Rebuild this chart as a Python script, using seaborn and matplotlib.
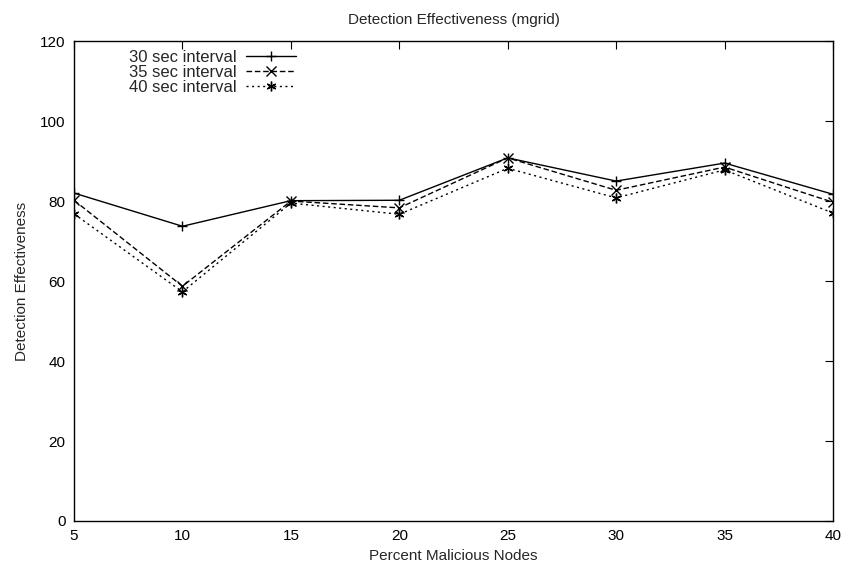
import matplotlib
matplotlib.use("Agg")
import matplotlib.pyplot as plt
import seaborn as sns
import pandas as pd

percent = [5, 10, 15, 20, 25, 30, 35, 40]
s30 = [82.0, 73.7, 80.1, 80.2, 90.8, 85.0, 89.5, 81.7]
s35 = [80.2, 58.7, 80.0, 78.3, 90.8, 82.7, 88.5, 79.7]
s40 = [76.8, 57.3, 79.5, 76.7, 88.2, 80.8, 87.8, 77.0]
labels = ["30 sec interval", "35 sec interval", "40 sec interval"]

sns.set_theme(style="white")
plt.rcParams['font.family'] = ['Liberation Sans', 'DejaVu Sans']

df = pd.DataFrame({
    "x": percent * 3,
    "y": s30 + s35 + s40,
    "series": [labels[0]] * 8 + [labels[1]] * 8 + [labels[2]] * 8,
})

fig = plt.figure(figsize=(8.48, 5.71), dpi=100)
ax = fig.add_axes([0.0873, 0.0876, 0.8950, 0.8404])

styles = {labels[0]: ("-", "+"), labels[1]: ((0, (4, 2)), "x"), labels[2]: ((0, (1.5, 2.5)), (6, 2, 0))}
for lab in labels:
    sub = df[df["series"] == lab]
    ls, mk = styles[lab]
    sns.lineplot(data=sub, x="x", y="y", ax=ax, color="black", linewidth=1.0,
                 linestyle=ls, marker=mk, markersize=7, markeredgewidth=1.0,
                 markerfacecolor="none", markeredgecolor="black", label=lab)

ax.set_xlim(5, 40)
ax.set_ylim(0, 120)
ax.set_xticks(percent)
ax.set_yticks([0, 20, 40, 60, 80, 100, 120])
ax.tick_params(direction="in", top=True, right=True, length=6, width=0.8,
               labelsize=11, colors="black", pad=6)
for sp in ax.spines.values():
    sp.set_color("black")
    sp.set_linewidth(1.0)
ax.set_xlabel("Percent Malicious Nodes", fontsize=11, labelpad=4)
ax.set_ylabel("Detection Effectiveness", fontsize=11, labelpad=8)
ax.set_title("Detection Effectiveness (mgrid)", fontsize=11, pad=12)

leg = ax.legend(loc="upper left", bbox_to_anchor=(0.060, 1.0), frameon=False,
                markerfirst=False, fontsize=12, handlelength=3.0,
                labelspacing=0.0, handletextpad=0.6, borderaxespad=0.15)
fig.canvas.draw()
renderer = fig.canvas.get_renderer()
widths = [t.get_window_extent(renderer).width for t in leg.get_texts()]
maxw = max(widths)
for t, w in zip(leg.get_texts(), widths):
    t.set_position((maxw - w, 0))

fig.savefig("out.png", dpi=100, facecolor="white")
